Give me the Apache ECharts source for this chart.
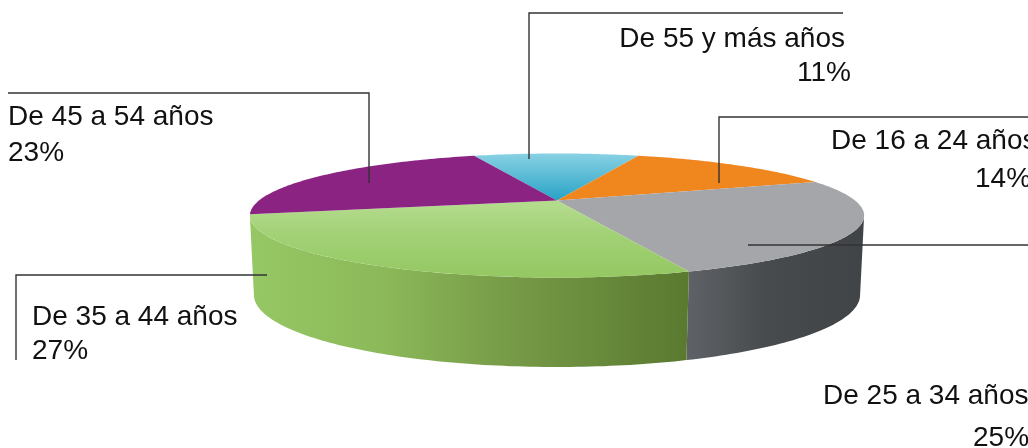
<!DOCTYPE html>
<html>
<head>
<meta charset="utf-8">
<style>html,body{margin:0;padding:0;background:#fff;overflow:hidden}#c{width:1028px;height:448px}</style>
<script src="https://cdn.jsdelivr.net/npm/echarts@6/dist/echarts.min.js"></script>
</head>
<body>
<div id="c"></div>
<script>
// Data, clockwise from the far-left edge of the top slice
const categories = ['De 55 y más años', 'De 16 a 24 años', 'De 25 a 34 años', 'De 35 a 44 años', 'De 45 a 54 años'];
const percents = [11, 14, 25, 27, 23];

// Presentation
const startDeg = 110;
const topDisc = { cx: 557, cy: 200.5, kx: 298, ky: 58.4, p: 0.242 };
const baseDisc = { cx: 557, cy: 278, kx: 294.5, ky: 68, p: 0.236 };
const silhouette = { from: -166, to: -14 };
const G = echarts.graphic.LinearGradient;
const topFill = [
  new G(0, 153, 0, 201, [{offset:0,color:'#8AD2E4'},{offset:1,color:'#27A2C6'}], true),
  '#F0861E',
  '#A4A6A9',
  new G(0, 205, 0, 278, [{offset:0,color:'#B3DB8C'},{offset:0.4,color:'#A2D176'},{offset:1,color:'#94C862'}], true),
  '#8B2382'
];
const wallFill = [
  null, null,
  new G(685, 0, 862, 0, [{offset:0,color:'#5F6367'},{offset:0.45,color:'#484B4E'},{offset:1,color:'#414447'}], true),
  new G(252, 0, 686, 0, [{offset:0,color:'#96C765'},{offset:0.3,color:'#8CB959'},{offset:0.6,color:'#769A47'},{offset:1,color:'#5A7A30'}], true),
  null
];
const labelFont = '28px "Liberation Sans", Arial, sans-serif';
const baselineToTop = 23;
const labelLayout = [
  { name:[845,48,'right'], pct:[851,82,'right'], line:[[843,13],[529,13],[529,159]] },
  { name:[831,150,'left'], pct:[975,188,'left'], line:[[1028,117],[719,117],[719,183]] },
  { name:[823,405,'left'], pct:[973,447,'left'], line:[[748,245],[1028,245]] },
  { name:[32,326,'left'], pct:[32,360,'left'], line:[[267,275],[16,275],[16,360]] },
  { name:[8,126,'left'], pct:[8,162,'left'], line:[[8,93],[369,93],[369,183]] }
];

function project(d, deg) {
  const t = deg * Math.PI / 180, s = Math.sin(t), w = 1 + d.p * s;
  return [d.cx + d.kx * Math.cos(t) / w, d.cy - d.ky * s / w];
}
function arc(d, a, b) {
  const n = Math.max(1, Math.ceil(Math.abs(a - b))), pts = [];
  for (let i = 0; i <= n; i++) pts.push(project(d, a + (b - a) * i / n));
  return pts;
}
const total = percents.reduce((a, b) => a + b, 0);
const bounds = [startDeg];
percents.forEach(v => bounds.push(bounds[bounds.length - 1] - v / total * 360));

function renderItem(params, api) {
  const i = params.dataIndex;
  const a = bounds[i], b = bounds[i + 1];
  const children = [];
  const wa = Math.min(a, silhouette.to), wb = Math.max(b, silhouette.from);
  if (wa > wb && wallFill[i]) {
    children.push({ type:'polygon', shape:{ points: arc(topDisc, wa, wb).concat(arc(baseDisc, wb, wa)) },
      style:{ fill: wallFill[i] } });
  }
  children.push({ type:'polygon', shape:{ points: [[topDisc.cx, topDisc.cy]].concat(arc(topDisc, a, b)) },
    style:{ fill: topFill[i] } });
  return { type:'group', children };
}

const graphics = [];
labelLayout.forEach((l, i) => {
  graphics.push({ type:'polyline', z:20, shape:{ points:l.line }, style:{ stroke:'#333', lineWidth:1.4, fill:null } });
  graphics.push({ type:'text', z:21, x:l.name[0], y:l.name[1] - baselineToTop, style:{ text:categories[i], font:labelFont, fill:'#111', align:l.name[2], verticalAlign:'top' } });
  graphics.push({ type:'text', z:21, x:l.pct[0], y:l.pct[1] - baselineToTop, style:{ text:percents[i] + '%', font:labelFont, fill:'#111', align:l.pct[2], verticalAlign:'top' } });
});

const chart = echarts.init(document.getElementById('c'), null, { renderer:'canvas' });
chart.setOption({
  animation:false,
  backgroundColor:'#fff',
  series:[{ type:'custom', coordinateSystem:'none', silent:true, renderItem,
    data: categories.map((c, i) => ({ name:c, value:percents[i] })) }],
  graphic: graphics
});
</script>
</body>
</html>
